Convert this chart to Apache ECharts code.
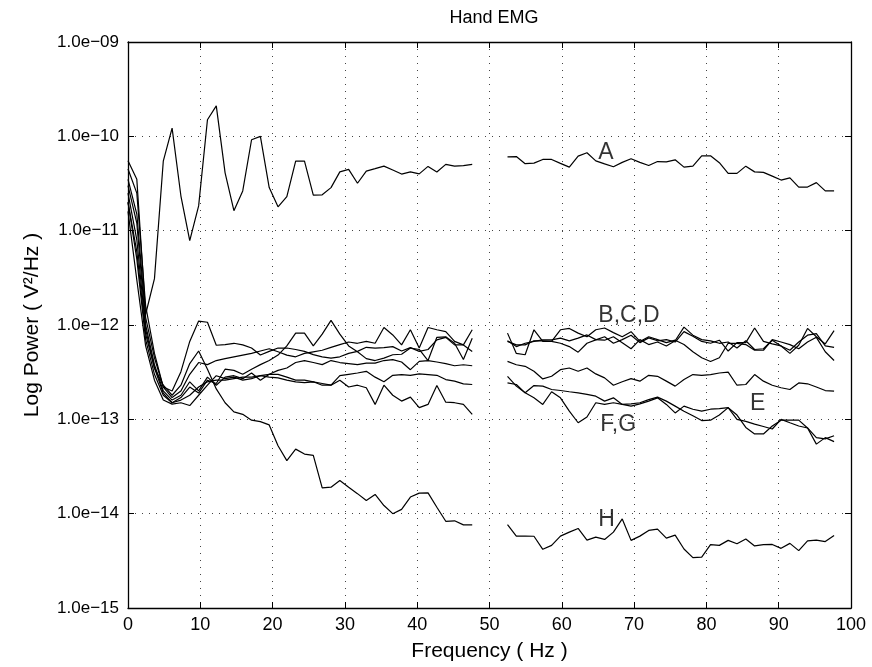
<!DOCTYPE html>
<html>
<head>
<meta charset="utf-8">
<script src="https://cdn.jsdelivr.net/npm/echarts@6/dist/echarts.min.js"></script>
<style>
html,body{margin:0;padding:0;background:#fff;}
#chart{width:872px;height:667px;}
</style>
</head>
<body>
<div id="chart"></div>
<script>
// Frequencies (Hz) of the two segments (gap around 50 Hz)
const freq1 = [0, 1.22, 2.44, 3.66, 4.88, 6.10, 7.32, 8.54, 9.77, 10.99, 12.21, 13.43, 14.65, 15.87, 17.09, 18.31, 19.53, 20.75, 21.97, 23.19, 24.41, 25.63, 26.86, 28.08, 29.30, 30.52, 31.74, 32.96, 34.18, 35.40, 36.62, 37.84, 39.06, 40.28, 41.50, 42.72, 43.95, 45.17, 46.39, 47.61];
const freq2 = [52.49, 53.71, 54.93, 56.15, 57.37, 58.59, 59.81, 61.04, 62.26, 63.48, 64.70, 65.92, 67.14, 68.36, 69.58, 70.80, 72.02, 73.24, 74.46, 75.68, 76.90, 78.13, 79.35, 80.57, 81.79, 83.01, 84.23, 85.45, 86.67, 87.89, 89.11, 90.33, 91.55, 92.77, 93.99, 95.21, 96.44, 97.66];

const A1 = [5.5e-11, 3.5e-11, 1.3e-12, 3.1e-12, 5.45e-11, 1.22e-10, 2.33e-11, 7.85e-12, 1.83e-11, 1.5e-10, 2.1e-10, 4.1e-11, 1.63e-11, 2.64e-11, 9.2e-11, 1.0e-10, 2.86e-11, 1.79e-11, 2.3e-11, 5.45e-11, 5.45e-11, 2.38e-11, 2.4e-11, 2.86e-11, 4.2e-11, 4.47e-11, 3.18e-11, 4.28e-11, 4.54e-11, 4.83e-11, 4.39e-11, 3.98e-11, 4.2e-11, 4.0e-11, 4.8e-11, 4.18e-11, 5.04e-11, 4.83e-11, 4.9e-11, 5.04e-11];
const A2 = [6.07e-11, 6.1e-11, 5.13e-11, 5.2e-11, 5.69e-11, 5.69e-11, 5.17e-11, 4.72e-11, 6.17e-11, 6.69e-11, 5.5e-11, 5.1e-11, 4.76e-11, 5.3e-11, 5.78e-11, 5.3e-11, 4.9e-11, 5.4e-11, 5.37e-11, 5.64e-11, 4.72e-11, 4.83e-11, 6.22e-11, 6.22e-11, 5.25e-11, 4.05e-11, 4.05e-11, 4.83e-11, 4.2e-11, 4.15e-11, 3.79e-11, 3.44e-11, 3.63e-11, 2.9e-11, 2.9e-11, 3.23e-11, 2.64e-11, 2.64e-11];

const B1 = [4.5e-11, 2.5e-11, 1.6e-12, 5e-13, 2.2e-13, 2.0e-13, 3.2e-13, 6.7e-13, 1.1e-12, 1.07e-12, 6.1e-13, 6.2e-13, 6.4e-13, 6.15e-13, 5.7e-13, 4.8e-13, 5.25e-13, 5.7e-13, 5.7e-13, 5.5e-13, 5.25e-13, 4.85e-13, 4.6e-13, 4.45e-13, 4.6e-13, 5.0e-13, 5.25e-13, 5.8e-13, 5.7e-13, 5.75e-13, 5.9e-13, 5.3e-13, 5.75e-13, 5.25e-13, 5.5e-13, 6.95e-13, 7.4e-13, 6.15e-13, 6.15e-13, 5.25e-13];
const B2 = [6.7e-13, 6.15e-13, 6.15e-13, 6.8e-13, 6.8e-13, 6.7e-13, 6.4e-13, 5.9e-13, 5.15e-13, 6.4e-13, 6.95e-13, 7.5e-13, 6.4e-13, 7.0e-13, 7.8e-13, 6.5e-13, 7.3e-13, 6.8e-13, 7.0e-13, 6.6e-13, 8.5e-13, 7.6e-13, 6.7e-13, 6.4e-13, 6.9e-13, 5.3e-13, 6.5e-13, 6.5e-13, 9.3e-13, 6.7e-13, 6.3e-13, 6.0e-13, 5.4e-13, 6.6e-13, 7.8e-13, 8.1e-13, 6.0e-13, 5.8e-13];

const C1 = [3.5e-11, 1.5e-11, 1.2e-12, 4.5e-13, 2.2e-13, 1.7e-13, 2.0e-13, 3.0e-13, 4.0e-13, 3.8e-13, 4.2e-13, 4.4e-13, 4.6e-13, 4.8e-13, 5.0e-13, 5.3e-13, 5.6e-13, 5.2e-13, 4.8e-13, 4.6e-13, 5.0e-13, 5.2e-13, 5.4e-13, 5.8e-13, 6.2e-13, 6.6e-13, 6.4e-13, 6.7e-13, 6.4e-13, 9.4e-13, 7.85e-13, 6.15e-13, 8.9e-13, 5.7e-13, 9.4e-13, 8.9e-13, 8.5e-13, 6.7e-13, 6.15e-13, 8.9e-13];
const C2 = [8.2e-13, 5.0e-13, 4.84e-13, 8.9e-13, 6.7e-13, 6.7e-13, 8.9e-13, 9.2e-13, 8.2e-13, 7.5e-13, 8.9e-13, 9.3e-13, 8.3e-13, 7.5e-13, 8.5e-13, 6.7e-13, 7.5e-13, 7.0e-13, 6.5e-13, 6.9e-13, 6.2e-13, 5.2e-13, 4.5e-13, 4.1e-13, 4.5e-13, 6.4e-13, 6.4e-13, 6.2e-13, 5.4e-13, 5.4e-13, 7.0e-13, 6.6e-13, 6.2e-13, 5.6e-13, 6.6e-13, 7.4e-13, 5.2e-13, 4.2e-13];

const D1 = [2.5e-11, 8e-12, 9e-13, 3.5e-13, 1.9e-13, 1.5e-13, 1.7e-13, 2.2e-13, 1.9e-13, 2.6e-13, 2.4e-13, 3.4e-13, 3.3e-13, 3.0e-13, 3.4e-13, 3.8e-13, 4.2e-13, 4.8e-13, 6.0e-13, 8.2e-13, 8.2e-13, 6.0e-13, 8.0e-13, 1.12e-12, 8.0e-13, 6.0e-13, 5.2e-13, 4.4e-13, 4.2e-13, 4.46e-13, 4.84e-13, 4.9e-13, 5.7e-13, 5.5e-13, 4.2e-13, 7.4e-13, 7.5e-13, 6.4e-13, 4.3e-13, 7.25e-13];
const D2 = [6.8e-13, 5.9e-13, 6.4e-13, 6.7e-13, 6.95e-13, 6.95e-13, 7.25e-13, 6.8e-13, 7.25e-13, 7.85e-13, 7.0e-13, 6.9e-13, 7.5e-13, 6.5e-13, 5.6e-13, 7.0e-13, 6.2e-13, 6.6e-13, 6.0e-13, 6.8e-13, 9.5e-13, 7.8e-13, 7.0e-13, 6.8e-13, 6.4e-13, 6.6e-13, 5.7e-13, 6.8e-13, 5.5e-13, 5.6e-13, 6.9e-13, 6.0e-13, 5.0e-13, 6.1e-13, 9.2e-13, 7.5e-13, 6.3e-13, 8.7e-13];

const E1 = [3e-11, 1.2e-11, 1.0e-12, 3.8e-13, 2.0e-13, 1.6e-13, 1.8e-13, 2.5e-13, 2.0e-13, 2.8e-13, 2.3e-13, 2.8e-13, 2.9e-13, 2.7e-13, 3.1e-13, 2.6e-13, 3.0e-13, 3.3e-13, 3.5e-13, 4.0e-13, 4.2e-13, 4.0e-13, 3.8e-13, 4.2e-13, 4.0e-13, 3.9e-13, 3.8e-13, 3.95e-13, 3.95e-13, 4.2e-13, 4.3e-13, 4.05e-13, 3.36e-13, 4.11e-13, 4.2e-13, 4.05e-13, 3.9e-13, 3.7e-13, 3.79e-13, 3.7e-13];
const E2 = [4.11e-13, 3.79e-13, 3.65e-13, 3.23e-13, 2.68e-13, 2.86e-13, 3.36e-13, 3.5e-13, 3.23e-13, 3.5e-13, 3.03e-13, 2.75e-13, 2.3e-13, 2.5e-13, 2.7e-13, 2.54e-13, 2.93e-13, 2.86e-13, 2.54e-13, 2.25e-13, 2.64e-13, 2.98e-13, 2.93e-13, 2.98e-13, 3.1e-13, 3.17e-13, 2.3e-13, 2.34e-13, 2.98e-13, 2.54e-13, 2.3e-13, 2.16e-13, 2.07e-13, 2.43e-13, 2.38e-13, 2.2e-13, 2.02e-13, 1.99e-13];

const F1 = [2e-11, 5e-12, 7e-13, 3.0e-13, 1.8e-13, 1.5e-13, 1.6e-13, 1.8e-13, 2.2e-13, 2.5e-13, 2.6e-13, 2.6e-13, 2.7e-13, 2.8e-13, 2.8e-13, 2.9e-13, 2.8e-13, 2.75e-13, 2.6e-13, 2.5e-13, 2.45e-13, 2.5e-13, 2.4e-13, 2.3e-13, 2.9e-13, 3.0e-13, 3.1e-13, 3.23e-13, 2.8e-13, 2.5e-13, 2.93e-13, 2.98e-13, 2.93e-13, 3.03e-13, 2.98e-13, 2.93e-13, 2.64e-13, 2.54e-13, 2.38e-13, 2.34e-13];
const F2 = [2.86e-13, 2.25e-13, 1.91e-13, 1.69e-13, 1.44e-13, 1.96e-13, 1.69e-13, 1.22e-13, 9.2e-14, 1.06e-13, 1.5e-13, 1.44e-13, 1.5e-13, 1.44e-13, 1.38e-13, 1.46e-13, 1.56e-13, 1.69e-13, 1.44e-13, 1.17e-13, 1.38e-13, 1.28e-13, 1.22e-13, 1.28e-13, 1.3e-13, 1.33e-13, 1.0e-13, 9.5e-14, 8.9e-14, 8.4e-14, 7.9e-14, 1.0e-13, 9.2e-14, 8.5e-14, 8.1e-14, 5.46e-14, 6.4e-14, 5.8e-14];

const G1 = [1.6e-11, 3e-12, 6e-13, 2.6e-13, 1.6e-13, 1.45e-13, 1.5e-13, 1.4e-13, 1.8e-13, 2.3e-13, 2.9e-13, 2.7e-13, 2.8e-13, 2.6e-13, 2.7e-13, 2.9e-13, 3.0e-13, 3.0e-13, 2.8e-13, 2.6e-13, 2.6e-13, 2.5e-13, 2.3e-13, 2.3e-13, 2.6e-13, 2.2e-13, 2.3e-13, 2.16e-13, 1.44e-13, 2.3e-13, 1.8e-13, 1.56e-13, 1.72e-13, 1.33e-13, 1.44e-13, 2.28e-13, 1.52e-13, 1.5e-13, 1.44e-13, 1.13e-13];
const G2 = [2.43e-13, 2.34e-13, 1.91e-13, 2.28e-13, 2.25e-13, 2.07e-13, 2.02e-13, 1.96e-13, 1.91e-13, 1.84e-13, 1.76e-13, 1.56e-13, 1.69e-13, 1.44e-13, 1.46e-13, 1.5e-13, 1.62e-13, 1.72e-13, 1.56e-13, 1.38e-13, 1.22e-13, 1.09e-13, 9.7e-14, 9.8e-14, 1.11e-13, 1.33e-13, 1.11e-13, 8.2e-14, 7.0e-14, 7.0e-14, 8.5e-14, 9.8e-14, 9.8e-14, 9.8e-14, 8.1e-14, 6.4e-14, 6.2e-14, 6.7e-14];

const H1 = [2.0e-11, 6e-12, 8e-13, 3.5e-13, 2.3e-13, 1.8e-13, 2.3e-13, 3.9e-13, 5.3e-13, 3.4e-13, 2.1e-13, 1.5e-13, 1.2e-13, 1.13e-13, 9.8e-14, 9.46e-14, 8.73e-14, 5.25e-14, 3.65e-14, 4.83e-14, 4.28e-14, 4.15e-14, 1.88e-14, 1.91e-14, 2.25e-14, 1.91e-14, 1.63e-14, 1.38e-14, 1.6e-14, 1.22e-14, 1.0e-14, 1.11e-14, 1.5e-14, 1.65e-14, 1.66e-14, 1.17e-14, 8.3e-15, 8.4e-15, 7.6e-15, 7.6e-15];
const H2 = [7.67e-15, 5.78e-15, 5.78e-15, 5.76e-15, 4.19e-15, 4.61e-15, 5.78e-15, 6.37e-15, 6.97e-15, 5.25e-15, 5.64e-15, 5.33e-15, 6.37e-15, 8.8e-15, 5.21e-15, 5.78e-15, 6.64e-15, 6.86e-15, 5.5e-15, 5.92e-15, 4.22e-15, 3.42e-15, 3.47e-15, 4.69e-15, 4.61e-15, 5.21e-15, 4.8e-15, 5.4e-15, 4.55e-15, 4.69e-15, 4.72e-15, 4.29e-15, 4.84e-15, 4.06e-15, 5.14e-15, 5.25e-15, 5.06e-15, 5.87e-15];

const seriesNames = ['A', 'B', 'C', 'D', 'E', 'F', 'G', 'H'];
const seg1 = [A1, B1, C1, D1, E1, F1, G1, H1];
const seg2 = [A2, B2, C2, D2, E2, F2, G2, H2];

// annotation texts
const noteText = ['A', 'B,C,D', 'E', 'F,G', 'H'];
const noteX = [66.1, 69.3, 87.1, 67.8, 66.2];
const noteY = [6.7e-11, 1.26e-12, 1.46e-13, 8.8e-14, 8.6e-15];

const yTicks = ['1.0e\u221215', '1.0e\u221214', '1.0e\u221213', '1.0e\u221212', '1.0e\u221211', '1.0e\u221210', '1.0e\u221209'];

function buildData(s1, s2) {
  const d = [];
  freq1.forEach((f, i) => d.push([f, s1[i]]));
  d.push([50, '-']);
  freq2.forEach((f, i) => d.push([f, s2[i]]));
  return d;
}

const font = 'Liberation Sans, Arial, Helvetica, sans-serif';
const gridLine = { show: true, lineStyle: { color: '#444', width: 1, type: [1, 6] } };

const series = seriesNames.map((n, i) => ({
  name: n, type: 'line', data: buildData(seg1[i], seg2[i]),
  showSymbol: false, symbol: 'none', connectNulls: false,
  lineStyle: { color: '#000', width: 1.2 }, animation: false, silent: true,
  xAxisIndex: 0, yAxisIndex: 0
}));

series.push({
  type: 'scatter', symbolSize: 0, silent: true, animation: false,
  data: noteText.map((t, i) => [noteX[i], noteY[i], t]),
  label: { show: true, position: 'inside', formatter: p => p.data[2], color: '#000', fontSize: 23, fontFamily: font },
  xAxisIndex: 0, yAxisIndex: 0
});

const chart = echarts.init(document.getElementById('chart'), null, { renderer: 'canvas' });
chart.setOption({
  backgroundColor: '#fff',
  animation: false,
  title: { text: 'Hand EMG', left: 489, top: 4, textAlign: 'center',
    textStyle: { fontSize: 18, fontWeight: 'normal', color: '#000', fontFamily: font } },
  grid: { left: 128, right: 21, top: 42, bottom: 56, containLabel: false },
  xAxis: [{
    type: 'value', min: 0, max: 100, interval: 10, position: 'bottom',
    name: 'Frequency ( Hz )', nameLocation: 'middle', nameGap: 33,
    nameTextStyle: { fontSize: 21, color: '#000', fontFamily: font },
    axisLine: { show: true, onZero: false, lineStyle: { color: '#000', width: 1.3 } },
    axisTick: { show: true, inside: true, length: 6, lineStyle: { color: '#000' } },
    axisLabel: { color: '#000', fontSize: 18, margin: 8, fontFamily: font },
    splitLine: gridLine
  }, {
    type: 'value', min: 0, max: 100, interval: 10, position: 'top',
    axisLine: { show: true, onZero: false, lineStyle: { color: '#000', width: 1.3 } },
    axisTick: { show: true, inside: true, length: 6, lineStyle: { color: '#000' } },
    axisLabel: { show: false }, splitLine: { show: false }
  }],
  yAxis: [{
    type: 'log', logBase: 10, min: 1e-15, max: 1e-9, position: 'left',
    name: 'Log Power ( V\u00B2/Hz )', nameLocation: 'middle', nameGap: 85, nameRotate: 90,
    nameTextStyle: { fontSize: 21, color: '#000', fontFamily: font },
    axisLine: { show: true, onZero: false, lineStyle: { color: '#000', width: 1.3 } },
    axisTick: { show: true, inside: true, length: 6, lineStyle: { color: '#000' } },
    axisLabel: { color: '#000', fontSize: 17, margin: 9, fontFamily: font,
      formatter: v => yTicks[Math.round(Math.log10(v)) + 15] },
    splitLine: gridLine
  }, {
    type: 'log', logBase: 10, min: 1e-15, max: 1e-9, position: 'right',
    axisLine: { show: true, onZero: false, lineStyle: { color: '#000', width: 1.3 } },
    axisTick: { show: true, inside: true, length: 6, lineStyle: { color: '#000' } },
    axisLabel: { show: false }, splitLine: { show: false }
  }],
  series: series
});
</script>
</body>
</html>
